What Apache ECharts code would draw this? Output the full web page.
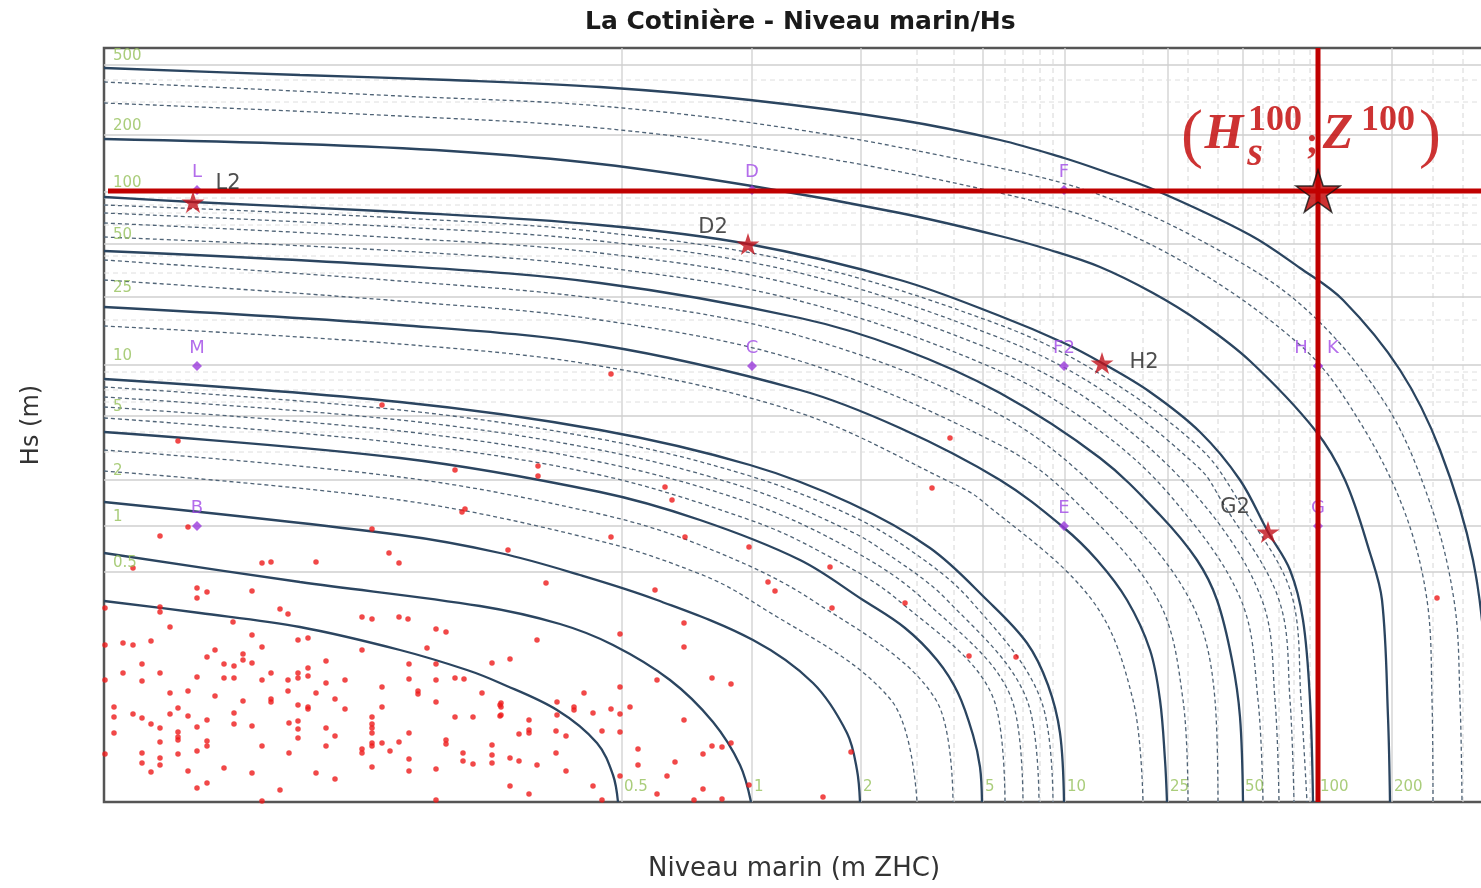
<!DOCTYPE html>
<html><head><meta charset="utf-8">
<script src="https://cdn.jsdelivr.net/npm/echarts/dist/echarts.min.js"></script>
<style>html,body{margin:0;padding:0;background:#fff}#c{width:1481px;height:888px}</style>
</head><body><div id="c"></div>
<script>
// ---------- DATA (Z = niveau marin m ZHC, Hs = m) ----------
const contourLevels = ['500','200','100','50','25','10','5','2','1','0.5'];
const c500 = [[4.5,7.34],[4.892,7.27],[5.192,7.22],[5.492,7.15],[5.792,7.02],[6.092,6.82],[6.292,6.62],[6.42,6.44],[6.492,6.32],[6.602,6.12],[6.792,5.67],[6.892,5.34],[6.978,5.02],[7.092,4.32],[7.172,3.52],[7.238,2.42],[7.266,1.22],[7.276,0]];
const c200 = [[4.5,6.63],[4.892,6.58],[5.192,6.51],[5.492,6.38],[5.796,6.16],[6.092,5.89],[6.292,5.66],[6.392,5.52],[6.492,5.35],[6.598,5.09],[6.692,4.80],[6.792,4.41],[6.922,3.72],[6.982,3.22],[7.032,2.49],[7.056,2.02],[7.068,0.85],[7.072,0]];
const c100 = [[4.5,6.05],[4.678,6.0],[5.092,5.90],[5.492,5.77],[5.788,5.58],[6.092,5.22],[6.292,4.86],[6.42,4.59],[6.496,4.39],[6.592,4.10],[6.692,3.70],[6.772,3.22],[6.828,2.70],[6.872,2.32],[6.898,1.82],[6.912,1.02],[6.918,0]];
const c50 = [[4.5,5.51],[5.092,5.36],[5.492,5.19],[5.892,4.84],[6.092,4.54],[6.292,4.09],[6.492,3.44],[6.612,2.87],[6.686,2.42],[6.726,2.02],[6.756,1.42],[6.772,0.85],[6.778,0]];
const c25 = [[4.5,4.95],[5.092,4.77],[5.492,4.57],[5.892,4.12],[6.092,3.74],[6.292,3.22],[6.418,2.75],[6.486,2.42],[6.546,2.02],[6.592,1.52],[6.612,1.02],[6.622,0.42],[6.626,0]];
const c10 = [[4.5,4.23],[5.092,4.0],[5.492,3.72],[5.792,3.37],[5.992,2.99],[6.152,2.54],[6.266,2.02],[6.346,1.59],[6.388,1.17],[6.412,0.69],[6.42,0]];
const c5 = [[4.5,3.70],[5.092,3.44],[5.492,3.10],[5.692,2.82],[5.892,2.42],[6.018,2.02],[6.102,1.74],[6.166,1.42],[6.208,1.09],[6.238,0.67],[6.252,0.35],[6.256,0]];
const c2 = [[4.5,3.0],[5.092,2.67],[5.292,2.49],[5.452,2.27],[5.606,2.02],[5.798,1.62],[5.918,1.19],[5.986,0.69],[6.006,0.32],[6.012,0]];
const c1 = [[4.5,2.49],[4.892,2.20],[5.252,1.96],[5.412,1.78],[5.518,1.57],[5.632,1.22],[5.718,0.80],[5.772,0.37],[5.794,0]];
const c05 = [[4.5,2.01],[4.692,1.89],[4.892,1.75],[5.092,1.52],[5.226,1.32],[5.292,1.19],[5.406,0.92],[5.486,0.59],[5.518,0.27],[5.528,0]];

const d400 = [[4.5,7.20],[5.092,7.06],[5.492,6.96],[5.892,6.72],[6.292,6.34],[6.492,6.07],[6.692,5.62],[6.892,4.98],[7.058,4.02],[7.15,3.02],[7.2,2.02],[7.212,1.02],[7.216,0]];
const d300 = [[4.5,6.99],[5.092,6.86],[5.492,6.74],[5.892,6.48],[6.292,6.09],[6.492,5.80],[6.692,5.30],[6.892,4.57],[6.984,4.02],[7.092,3.02],[7.146,2.02],[7.156,1.02],[7.158,0]];
const d90 = [[4.5,5.97],[5.092,5.84],[5.492,5.70],[5.892,5.39],[6.292,4.77],[6.492,4.28],[6.692,3.54],[6.768,3.02],[6.878,2.02],[6.894,1.02],[6.906,0]];
const d80 = [[4.5,5.89],[5.092,5.75],[5.492,5.61],[5.892,5.29],[6.292,4.64],[6.492,4.13],[6.692,3.33],[6.734,3.02],[6.85,2.02],[6.872,1.02],[6.88,0]];
const d70 = [[4.5,5.79],[5.092,5.64],[5.492,5.49],[5.892,5.16],[6.292,4.49],[6.492,3.94],[6.692,3.02],[6.816,2.02],[6.842,1.02],[6.85,0]];
const d60 = [[4.5,5.65],[5.092,5.51],[5.492,5.35],[5.892,5.01],[6.292,4.31],[6.492,3.71],[6.64,3.02],[6.774,2.02],[6.808,1.02],[6.818,0]];
const d40 = [[4.5,5.42],[5.092,5.21],[5.492,5.03],[5.892,4.66],[6.292,3.87],[6.51,3.02],[6.672,2.02],[6.722,1.02],[6.728,0]];
const d30 = [[4.5,5.22],[5.092,5.01],[5.492,4.82],[5.892,4.41],[6.292,3.57],[6.44,3.02],[6.608,2.02],[6.658,1.02],[6.668,0]];
const d20 = [[4.5,4.76],[5.092,4.58],[5.492,4.36],[5.892,3.89],[6.192,3.20],[6.254,3.02],[6.476,2.02],[6.558,1.02],[6.578,0]];
const d9 = [[4.5,4.15],[5.092,3.92],[5.492,3.63],[5.792,3.26],[5.992,2.87],[6.112,2.52],[6.232,2.02],[6.374,1.02],[6.398,0]];
const d8 = [[4.5,4.05],[5.092,3.82],[5.492,3.52],[5.792,3.13],[5.992,2.71],[6.056,2.52],[6.186,2.02],[6.346,1.02],[6.37,0]];
const d7 = [[4.5,3.95],[5.092,3.71],[5.492,3.40],[5.792,2.99],[5.996,2.52],[6.14,2.02],[6.316,1.02],[6.338,0]];
const d6 = [[4.5,3.84],[5.092,3.59],[5.492,3.27],[5.792,2.82],[5.926,2.52],[6.088,2.02],[6.28,1.02],[6.302,0]];
const d4 = [[4.5,3.52],[5.092,3.25],[5.492,2.88],[5.692,2.57],[5.916,2.02],[6.164,1.02],[6.198,0]];
const d3 = [[4.5,3.31],[5.092,3.02],[5.492,2.61],[5.692,2.28],[5.792,2.02],[6.074,1.02],[6.126,0]];

// grid of marginal return levels
const gridZSolid = [5.536,5.796,6.014,6.258,6.422,6.628,6.778,6.928,7.076];
const gridZDashed = [6.126,6.2,6.302,6.338,6.372,6.398,6.578,6.668,6.728,6.818,6.85,6.88,6.912,7.158,7.218];
const gridHsSolid = [7.37,6.67,6.10,5.58,5.05,4.37,3.86,3.22,2.76,2.30];
const gridHsDashed = [7.22,7.00,6.04,5.97,5.89,5.77,5.46,5.29,4.82,4.30,4.22,4.12,4.00,3.70,3.50];
const hsLabels = ['500','200','100','50','25','10','5','2','1','0.5'];
const zLabels = ['0.5','1','2','5','10','25','50','100','200'];

// observations
const observations = [[4.558,2.34],[4.686,2.14],[4.686,2.04],[4.706,2.10],[4.796,2.11],[4.816,2.39],[4.834,2.40],[4.924,2.40],[5.09,2.39],[4.502,1.94],[4.612,1.95],[4.612,1.90],[4.852,1.93],[4.868,1.88],[5.016,1.85],[5.036,1.83],[5.09,1.85],[5.108,1.83],[4.632,1.75],[4.758,1.80],[5.164,1.73],[5.184,1.70],[4.796,1.67],[4.538,1.59],[4.558,1.57],[4.594,1.61],[4.888,1.62],[4.908,1.64],[4.502,1.57],[4.816,1.55],[4.722,1.52],[4.706,1.45],[5.146,1.54],[5.016,1.52],[4.778,1.48],[4.778,1.42],[4.796,1.39],[4.576,1.38],[4.74,1.38],[4.76,1.36],[4.944,1.41],[5.11,1.38],[5.164,1.38],[5.276,1.39],[4.538,1.29],[4.612,1.29],[4.686,1.25],[4.888,1.29],[4.888,1.24],[4.908,1.34],[4.908,1.26],[4.834,1.29],[4.74,1.24],[4.76,1.24],[4.502,1.22],[4.576,1.21],[4.816,1.22],[4.868,1.22],[4.944,1.19],[4.982,1.22],[5.11,1.23],[5.164,1.22],[5.202,1.24],[5.22,1.23],[5.056,1.15],[4.868,1.11],[4.632,1.09],[4.668,1.11],[4.924,1.09],[5.128,1.11],[5.128,1.08],[5.256,1.09],[4.722,1.06],[4.834,1.03],[4.834,1.00],[4.778,1.01],[4.962,1.03],[5.164,1.00],[5.292,0.97],[4.52,0.95],[4.648,0.94],[4.888,0.97],[4.908,0.95],[4.908,0.93],[4.982,0.93],[5.056,0.95],[4.52,0.85],[4.558,0.88],[4.576,0.84],[4.632,0.88],[4.668,0.86],[4.76,0.89],[4.76,0.78],[4.706,0.82],[5.202,0.85],[5.238,0.85],[5.292,0.86],[4.594,0.78],[4.612,0.74],[4.796,0.76],[4.87,0.79],[4.888,0.81],[4.888,0.73],[4.944,0.74],[5.036,0.85],[5.036,0.78],[5.036,0.74],[5.036,0.69],[4.52,0.69],[4.648,0.70],[4.648,0.65],[4.648,0.62],[4.686,0.75],[4.888,0.64],[4.962,0.66],[5.11,0.69],[5.09,0.60],[5.056,0.59],[5.036,0.59],[5.036,0.56],[5.016,0.53],[5.016,0.49],[4.706,0.61],[4.706,0.56],[4.612,0.60],[4.816,0.56],[4.944,0.56],[5.184,0.62],[5.184,0.58],[5.072,0.51],[4.502,0.48],[4.576,0.49],[4.576,0.39],[4.612,0.44],[4.612,0.37],[4.648,0.48],[4.686,0.51],[4.87,0.49],[5.218,0.49],[5.218,0.41],[5.238,0.38],[5.276,0.57],[5.276,0.47],[5.276,0.39],[5.11,0.43],[5.11,0.31],[5.036,0.35],[4.594,0.30],[4.668,0.31],[4.74,0.34],[4.796,0.29],[4.924,0.29],[4.962,0.23],[5.164,0.33],[4.686,0.14],[4.706,0.19],[4.852,0.12],[4.816,0.01],[5.164,0.02],[5.366,1.62],[5.312,1.43],[5.532,1.68],[5.66,1.79],[5.66,1.55],[5.294,0.99],[5.294,0.95],[5.294,0.87],[5.35,0.82],[5.406,1.00],[5.406,0.87],[5.44,0.95],[5.44,0.92],[5.46,1.09],[5.478,0.89],[5.514,0.93],[5.552,0.95],[5.532,1.15],[5.532,0.88],[5.532,0.70],[5.606,1.22],[5.716,1.24],[5.754,1.18],[5.66,0.82],[5.35,0.72],[5.35,0.69],[5.33,0.68],[5.404,0.71],[5.424,0.66],[5.496,0.71],[5.312,0.44],[5.33,0.41],[5.366,0.37],[5.404,0.49],[5.424,0.31],[5.568,0.53],[5.568,0.37],[5.642,0.40],[5.698,0.48],[5.716,0.56],[5.736,0.55],[5.754,0.59],[5.626,0.26],[5.532,0.26],[5.312,0.16],[5.35,0.08],[5.478,0.16],[5.496,0.02],[5.606,0.08],[5.68,0.02],[5.698,0.13],[5.736,0.03],[5.79,0.17],[5.938,0.05],[5.994,0.50],[5.956,1.94],[6.102,1.99],[6.23,1.46],[5.514,4.28],[5.056,3.97],[4.648,3.61],[6.192,3.64],[5.202,3.32],[5.368,3.36],[5.368,3.26],[5.622,3.15],[5.636,3.02],[6.156,3.14],[5.216,2.90],[5.222,2.93],[5.036,2.73],[4.668,2.75],[4.612,2.66],[5.07,2.49],[5.308,2.52],[5.514,2.65],[5.662,2.65],[5.79,2.55],[5.952,2.35],[5.842,2.11],[5.828,2.20],[5.384,2.19],[5.602,2.12],[6.324,1.45],[7.166,2.04]];

// design points
const pointNames = ['L','D','F','M','C','F2','H','K','B','E','G'];
const pointValues = [[4.686,6.12],[5.796,6.12],[6.42,6.12],[4.686,4.36],[5.796,4.36],[6.42,4.36],[6.928,4.36],[6.928,4.36],[4.686,2.76],[6.42,2.76],[6.928,2.76]];
const starNames = ['L2','D2','H2','G2'];
const starValues = [[4.678,6.00],[5.788,5.58],[6.496,4.39],[6.828,2.70]];
const hs100 = 6.11;
const z100 = 6.928;
const annotationParts = ['(', 'H', '100', 's', ';', 'Z', '100', ')'];

// ---------- CHART ----------
const X_MIN = 4.5, X_MAX = 7.3, Y_MIN = 0, Y_MAX = 7.54;
const STAR = 'path://M50,0 L61.2,34.5 L97.6,34.5 L68.2,55.9 L79.4,90.5 L50,69.1 L20.6,90.5 L31.8,55.9 L2.4,34.5 L38.8,34.5 Z';
const series = [];

gridZSolid.forEach(v => series.push({type:'line', data:[[v,Y_MIN],[v,Y_MAX]], symbol:'none', silent:true, z:1,
  lineStyle:{color:'#cfcfcf', width:1.3}}));
gridZDashed.forEach(v => series.push({type:'line', data:[[v,Y_MIN],[v,Y_MAX]], symbol:'none', silent:true, z:1,
  lineStyle:{color:'#d6d6d6', width:1, type:[5,4]}}));
gridHsSolid.forEach(v => series.push({type:'line', data:[[X_MIN,v],[X_MAX,v]], symbol:'none', silent:true, z:1,
  lineStyle:{color:'#cfcfcf', width:1.3}}));
gridHsDashed.forEach(v => series.push({type:'line', data:[[X_MIN,v],[X_MAX,v]], symbol:'none', silent:true, z:1,
  lineStyle:{color:'#dedede', width:1, type:[5,4]}}));

[d400,d300,d90,d80,d70,d60,d40,d30,d20,d9,d8,d7,d6,d4,d3].forEach(d => series.push({type:'line', data:d, symbol:'none',
  smooth:0.35, silent:true, z:2, lineStyle:{color:'#4f6376', width:1.3, type:[4,3]}}));
[c500,c200,c100,c50,c25,c10,c5,c2,c1,c05].forEach((d,i) => series.push({type:'line', name:contourLevels[i], data:d, symbol:'none',
  smooth:0.35, silent:true, z:3, lineStyle:{color:'#2b4560', width:2.3}}));

series.push({type:'scatter', data:observations, symbolSize:5.5, z:4, itemStyle:{color:'#ee1a1a'}});

series.push({type:'scatter', z:4, symbolSize:0, itemStyle:{color:'rgba(0,0,0,0)'},
  data: hsLabels.map((t,i)=>({value:[X_MIN, gridHsSolid[i]], name:t})),
  label:{show:true, position:'right', distance:9, offset:[0,-9], formatter:'{b}', color:'#95c05a', fontSize:15, fontFamily:'DejaVu Sans'}});
series.push({type:'scatter', z:4, symbolSize:0, itemStyle:{color:'rgba(0,0,0,0)'},
  data: zLabels.map((t,i)=>({value:[gridZSolid[i], Y_MIN], name:t})),
  label:{show:true, position:'right', distance:2, offset:[0,-15], formatter:'{b}', color:'#95c05a', fontSize:15, fontFamily:'DejaVu Sans'}});

series.push({type:'scatter', z:5, symbol:'diamond', symbolSize:10, itemStyle:{color:'#9b3bdc'},
  data: pointNames.map((n,i)=>({value:pointValues[i], name:n,
    label:{offset: n==='H'?[-17,0]: n==='K'?[15,0]:[0,0]}})),
  label:{show:true, position:'top', distance:4, formatter:'{b}', color:'#a048e6', fontSize:18, fontFamily:'DejaVu Sans'}});

// red cross lines
series.push({type:'line', data:[[4.508,hs100],[X_MAX,hs100]], symbol:'none', silent:true, z:6, lineStyle:{color:'#c00000', width:5}});
series.push({type:'line', data:[[z100,Y_MIN],[z100,Y_MAX]], symbol:'none', silent:true, z:6, lineStyle:{color:'#c00000', width:5}});

const starOffsets = {L2:[35,-18], D2:[-35,-16], H2:[42,0], G2:[-33,-24]};
series.push({type:'scatter', z:7, symbol:STAR, symbolSize:[23,22], itemStyle:{color:'#c2101a'},
  data: starNames.map((n,i)=>({value:starValues[i], name:n, label:{offset:starOffsets[n]}})),
  label:{show:true, position:'inside', formatter:'{b}', color:'#222', fontSize:21, fontFamily:'DejaVu Sans'}});

series.push({type:'scatter', z:8, symbol:STAR, symbolSize:[44,42], data:[[z100,hs100]],
  itemStyle:{color:'#c00000', borderColor:'#111', borderWidth:1.5}});

const partStyle = [
  {off:[-126,-53], size:66, weight:'normal', style:'normal'},
  {off:[-94,-56], size:50, weight:'bold', style:'italic'},
  {off:[-43,-70], size:36, weight:'bold', style:'normal'},
  {off:[-63,-36], size:40, weight:'bold', style:'italic'},
  {off:[-6,-48], size:38, weight:'bold', style:'normal'},
  {off:[20,-56], size:50, weight:'bold', style:'italic'},
  {off:[70,-70], size:36, weight:'bold', style:'normal'},
  {off:[112,-53], size:66, weight:'normal', style:'normal'}
];
series.push({type:'scatter', z:9, symbolSize:0, itemStyle:{color:'rgba(0,0,0,0)'},
  data: annotationParts.map((t,i)=>({value:[z100,hs100], label:{show:true, position:'inside', offset:partStyle[i].off,
    formatter:t, fontSize:partStyle[i].size, fontWeight:partStyle[i].weight, fontStyle:partStyle[i].style,
    fontFamily:'Liberation Serif', color:'#c00000'}}))});

const chart = echarts.init(document.getElementById('c'), null, {renderer:'canvas'});
chart.setOption({
  animation:false,
  backgroundColor:'#ffffff',
  title:{text:'La Cotinière - Niveau marin/Hs', left:580, top:5,
    textStyle:{fontSize:25, fontWeight:'bold', color:'#1a1a1a', fontFamily:'DejaVu Sans'}},
  grid:{left:104, top:48, width:1400, height:754, show:true, borderColor:'#555', borderWidth:2.5,
    backgroundColor:'transparent', containLabel:false, outerBoundsMode:'none'},
  xAxis:{type:'value', min:X_MIN, max:X_MAX, axisLine:{show:false}, axisTick:{show:false}, axisLabel:{show:false}, splitLine:{show:false},
    name:'Niveau marin (m ZHC)', nameLocation:'middle', nameGap:54,
    nameTextStyle:{fontSize:26, color:'#333', fontFamily:'DejaVu Sans', padding:[0,20,0,0]}},
  yAxis:{type:'value', min:Y_MIN, max:Y_MAX, axisLine:{show:false}, axisTick:{show:false}, axisLabel:{show:false}, splitLine:{show:false},
    name:'Hs (m)', nameLocation:'middle', nameGap:60,
    nameTextStyle:{fontSize:24, color:'#333', fontFamily:'DejaVu Sans'}},
  series: series
});
</script></body></html>
